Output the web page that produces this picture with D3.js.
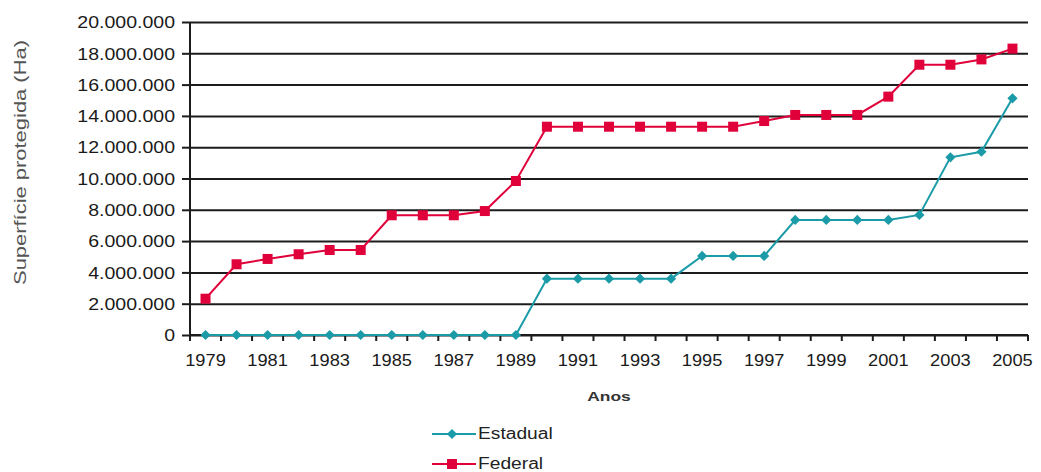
<!DOCTYPE html>
<html>
<head>
<meta charset="utf-8">
<script src="https://cdn.jsdelivr.net/npm/d3@7/dist/d3.min.js"></script>
<style>
  html, body { margin: 0; padding: 0; background: #fff; }
  svg { display: block; }
  text { font-family: "Liberation Sans", Arial, Helvetica, sans-serif; }
</style>
</head>
<body>
<svg id="chart" width="1041" height="472"></svg>
<script>
// Superfície protegida por ano (hectares)
const years = d3.range(1979, 2006);
const estadual = [
  0, 0, 0, 0, 0, 0, 0, 0, 0, 0, 0,
  3600000, 3600000, 3600000, 3600000, 3600000,
  5050000, 5050000, 5050000,
  7350000, 7350000, 7350000, 7350000,
  7670000, 11350000, 11710000, 15120000
];
const federal = [
  2320000, 4520000, 4860000, 5160000, 5430000, 5430000,
  7650000, 7650000, 7650000, 7920000, 9840000,
  13310000, 13310000, 13310000, 13310000, 13310000, 13310000, 13310000,
  13670000, 14060000, 14060000, 14060000,
  15230000, 17270000, 17270000, 17610000, 18300000
];
const yTicks = d3.range(0, 20000001, 2000000);
const xLabelYears = years.filter(d => (d - 1979) % 2 === 0);
const seriesNames = ["Estadual", "Federal"];
const yTitle = "Superfície protegida (Ha)";
const xTitle = "Anos";

const RED = "#e0003a";
const TEAL = "#1b9ba7";
const INK = "#1c1c1c";

const svg = d3.select("#chart");
const plotL = 190, plotR = 1028, plotT = 22, plotB = 335;

const x = d3.scaleBand().domain(years).range([plotL, plotR]).padding(0);
const y = d3.scaleLinear().domain([0, 20000000]).range([plotB, plotT]);
const cx = d => x(d) + x.bandwidth() / 2;

const pt = d3.formatLocale({ decimal: ",", thousands: ".", grouping: [3], currency: ["", ""] });
const fmt = pt.format(",d");

// widen glyphs horizontally by a factor
function widen(sel, k) {
  sel.each(function () {
    const w = this.getComputedTextLength();
    d3.select(this).attr("textLength", w * k).attr("lengthAdjust", "spacingAndGlyphs");
  });
}

// horizontal gridlines
const grid = svg.append("g")
  .attr("transform", `translate(${plotL},0)`)
  .call(d3.axisLeft(y).tickValues(yTicks).tickSize(-(plotR - plotL)).tickFormat(""));
grid.select(".domain").remove();
grid.selectAll(".tick line").attr("stroke", INK).attr("stroke-width", 2);

// y axis with short outer ticks and labels
const yAxis = svg.append("g")
  .attr("transform", `translate(${plotL},0)`)
  .call(d3.axisLeft(y).tickValues(yTicks).tickSize(8).tickPadding(7).tickFormat(fmt));
yAxis.select(".domain").attr("stroke", INK).attr("stroke-width", 2)
  .attr("d", `M0,${plotB + 6}V${plotT}`);
yAxis.selectAll(".tick line").attr("stroke", INK).attr("stroke-width", 2);
yAxis.selectAll(".tick text")
  .attr("font-size", 16).attr("fill", "#1a1a1a").attr("dy", "0.36em")
  .call(widen, 1.22);

// x axis baseline and category boundary ticks
svg.append("line")
  .attr("x1", plotL).attr("x2", plotR).attr("y1", plotB).attr("y2", plotB)
  .attr("stroke", INK).attr("stroke-width", 2);
svg.append("g").selectAll("line").data(years).join("line")
  .attr("x1", d => x(d) + x.bandwidth()).attr("x2", d => x(d) + x.bandwidth())
  .attr("y1", plotB).attr("y2", plotB + 6)
  .attr("stroke", INK).attr("stroke-width", 2);

// x labels (every other year)
svg.append("g").selectAll("text").data(xLabelYears).join("text")
  .attr("x", cx).attr("y", 366)
  .attr("text-anchor", "middle").attr("font-size", 16).attr("fill", "#1a1a1a")
  .text(d => d)
  .call(widen, 1.14);

// axis titles
svg.append("text")
  .attr("x", 609).attr("y", 401)
  .attr("text-anchor", "middle").attr("font-size", 13).attr("font-weight", "bold").attr("fill", "#333")
  .text(xTitle).call(widen, 1.34);

svg.append("text")
  .attr("transform", `translate(26,162.5) rotate(-90)`)
  .attr("text-anchor", "middle").attr("font-size", 17).attr("fill", "#555")
  .text(yTitle).call(widen, 1.29);

// series
const series = [
  { name: seriesNames[0], values: estadual, color: TEAL, symbol: "diamond" },
  { name: seriesNames[1], values: federal, color: RED, symbol: "square" }
];
const line = d3.line().x((d, i) => cx(years[i])).y(d => y(d));

const squarePath = d3.symbol(d3.symbolSquare, 100)();
const diamondPath = d3.symbol(d3.symbolSquare, 52)();
function marker(sel, s) {
  sel.attr("d", s.symbol === "square" ? squarePath : diamondPath)
    .attr("fill", s.color)
    .attr("stroke", "none");
}

series.forEach(s => {
  const g = svg.append("g");
  g.append("path").datum(s.values)
    .attr("d", line).attr("fill", "none")
    .attr("stroke", s.color).attr("stroke-width", 2);
  g.selectAll("path.m").data(s.values).join("path").attr("class", "m")
    .attr("transform", (d, i) => `translate(${cx(years[i])},${y(d)})` + (s.symbol === "diamond" ? " rotate(45)" : ""))
    .call(marker, s);
});

// legend
const legend = svg.append("g");
series.forEach((s, i) => {
  const ly = 434 + i * 30;
  legend.append("line").attr("x1", 432).attr("x2", 476).attr("y1", ly).attr("y2", ly)
    .attr("stroke", s.color).attr("stroke-width", 2);
  legend.append("path")
    .attr("transform", `translate(452,${ly})` + (s.symbol === "diamond" ? " rotate(45)" : ""))
    .call(marker, s);
  legend.append("text").attr("x", 478).attr("y", ly + 5)
    .attr("font-size", 16).attr("fill", "#222")
    .text(s.name).call(widen, 1.2);
});
</script>
</body>
</html>
